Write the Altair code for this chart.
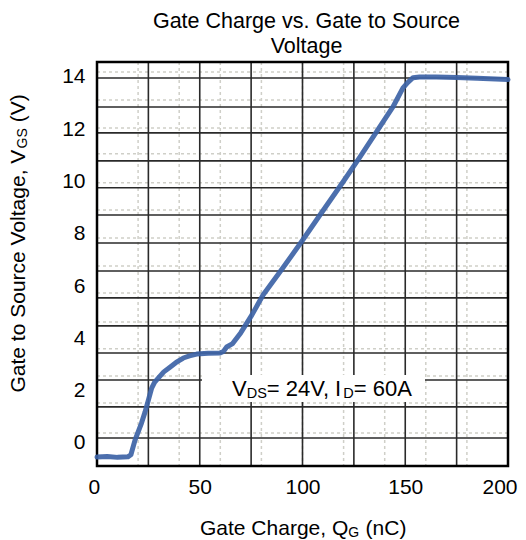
import altair as alt
import pandas as pd

# ---- data ----
Q_NC = [0, 5, 10, 15, 16.5, 18.5, 21.7, 23.4, 25, 26.6, 28, 29.8, 32.5, 35.5, 38.5, 42, 45,
        48.5, 54, 59.9, 61.5, 63.1, 66, 70, 75.4, 80.8, 90.5, 100.2, 108.5, 119.7, 128, 136,
        144, 148.9, 151.4, 153.8, 157, 165, 175, 185, 200]
VGS = [-0.54, -0.52, -0.55, -0.53, -0.45, 0.11, 0.77, 1.19, 1.64, 2.1, 2.32, 2.48, 2.72, 2.9,
       3.08, 3.25, 3.33, 3.4, 3.43, 3.44, 3.5, 3.67, 3.8, 4.22, 4.9, 5.66, 6.7, 7.77, 8.72,
       9.98, 10.94, 11.9, 12.85, 13.58, 13.8, 13.97, 14.0, 14.0, 13.98, 13.95, 13.9]

X_TICKS = [0, 50, 100, 150, 200]
Y_TICKS = [0, 2, 4, 6, 8, 10, 12, 14]
GRID_X_SOLID = [25, 50, 75, 100, 125, 150, 175]
GRID_X_DOTTED = [20, 40, 60, 80, 100, 120, 140, 160, 180]
GRID_Y_SOLID = [13.96, 12.85, 11.86, 10.79, 9.76, 8.72, 7.65, 6.58, 5.55, 4.48, 3.44, 2.41, 1.38, 0.19]
GRID_Y_DOTTED = [14.19, 13.12, 12.05, 11.06, 9.95, 8.91, 7.84, 6.77, 5.74, 4.63, 3.6, 2.56, 1.53, 0.38]

TITLE_LINES = ["Gate Charge vs. Gate to Source", "Voltage"]
X_TITLE = ["Gate Charge, Q", "G", "(nC)"]
Y_TITLE = ["Gate to Source Voltage, V", "GS", "(V)"]
NOTE = ["V", "DS", "= 24V, I", "D", "= 60A"]

FONT = "Liberation Sans"
W, H = 411, 404

xscale = alt.Scale(domain=[0, 200], nice=False, zero=False)
yscale = alt.Scale(domain=[-0.88, 14.57], nice=False, zero=False)
xaxis = alt.Axis(values=X_TICKS, title=None, grid=False, ticks=False, tickSize=0, domain=False,
                 labelFontSize=21, labelFont=FONT, labelColor="black", labelPadding=10,
                 labelFlush=True, labelFlushOffset=9)
yaxis = alt.Axis(values=Y_TICKS, title=None, grid=False, ticks=False, tickSize=0, domain=False,
                 labelFontSize=21, labelFont=FONT, labelColor="black", labelPadding=12,
                 labelFlush=False)

X = alt.X("q:Q", scale=xscale, axis=xaxis)
Y = alt.Y("v:Q", scale=yscale, axis=yaxis)

dotted_v = alt.Chart(pd.DataFrame({"q": GRID_X_DOTTED})).mark_rule(
    color="#cfcfc8", strokeWidth=1.5, strokeDash=[3, 3]).encode(x=X)
dotted_h = alt.Chart(pd.DataFrame({"v": GRID_Y_DOTTED})).mark_rule(
    color="#cfcfc8", strokeWidth=1.5, strokeDash=[3, 3]).encode(y=Y)
solid_v = alt.Chart(pd.DataFrame({"q": GRID_X_SOLID})).mark_rule(
    color="#2a2a2a", strokeWidth=1.6).encode(x=X)
solid_h = alt.Chart(pd.DataFrame({"v": GRID_Y_SOLID})).mark_rule(
    color="#2a2a2a", strokeWidth=1.6).encode(y=Y)

frame = alt.Chart(pd.DataFrame({"a": [0]})).mark_rect(
    filled=False, stroke="black", strokeWidth=2.5).encode(
    x=alt.value(0), x2=alt.value(W), y=alt.value(0), y2=alt.value(H))

box = alt.Chart(pd.DataFrame({"a": [0]})).mark_rect(color="white").encode(
    x=alt.value(105), x2=alt.value(328), y=alt.value(313), y2=alt.value(340))

curve = alt.Chart(pd.DataFrame({"q": Q_NC, "v": VGS})).mark_line(
    color="#3d63a6", strokeWidth=5, strokeJoin="round", strokeCap="round", opacity=0.92
).encode(x=X, y=Y)


def txt(s, x, y, size=21, angle=0, align="left", baseline="alphabetic"):
    kw = dict(font=FONT, fontSize=size, color="black", align=align, baseline=baseline)
    if angle:
        kw["angle"] = angle
    return alt.Chart(pd.DataFrame({"t": [s]})).mark_text(**kw).encode(
        x=alt.value(x), y=alt.value(y), text="t:N")


# x title: "Gate Charge, Q" (148.2) + sub "G" (10.9) + space (5.8) + "(nC)" (40.8)
XT0 = 103
# y title: main (244) + sub (20.2) + space (5.8) + "(V)" (28)
YT0 = 330.5

texts = [
    txt(TITLE_LINES[0], 209.5, -33.7, size=21.5, align="center"),
    txt(TITLE_LINES[1], 209.5, -8.7, size=21.5, align="center"),
    # x title
    txt(X_TITLE[0], XT0, 473),
    txt(X_TITLE[1], XT0 + 148.2, 474.5, size=14),
    txt(X_TITLE[2], XT0 + 148.2 + 10.9 + 6.5, 473),
    # y title (rotated)
    txt(Y_TITLE[0], -72, YT0, angle=270),
    txt(Y_TITLE[1], -70.5, YT0 - 244, size=14, angle=270),
    txt(Y_TITLE[2], -72, YT0 - 244 - 20.2 - 6, angle=270),
    # annotation
    txt(NOTE[0], 135, 334, size=22),
    txt(NOTE[1], 149.7, 335.5, size=14.5),
    txt(NOTE[2], 169.8, 334, size=22),
    txt(NOTE[3], 246.2, 335.5, size=14.5),
    txt(NOTE[4], 256.7, 334, size=22),
]

chart = alt.layer(dotted_v, dotted_h, solid_v, solid_h, frame, box, curve, *texts).properties(
    width=W, height=H,
    autosize=alt.AutoSizeParams(type="none"),
    padding={"left": 89, "top": 54, "right": 10, "bottom": 74},
).configure_view(strokeWidth=0).configure(font=FONT)

chart.save("out.html", embed_options={"renderer": "svg", "actions": False})
